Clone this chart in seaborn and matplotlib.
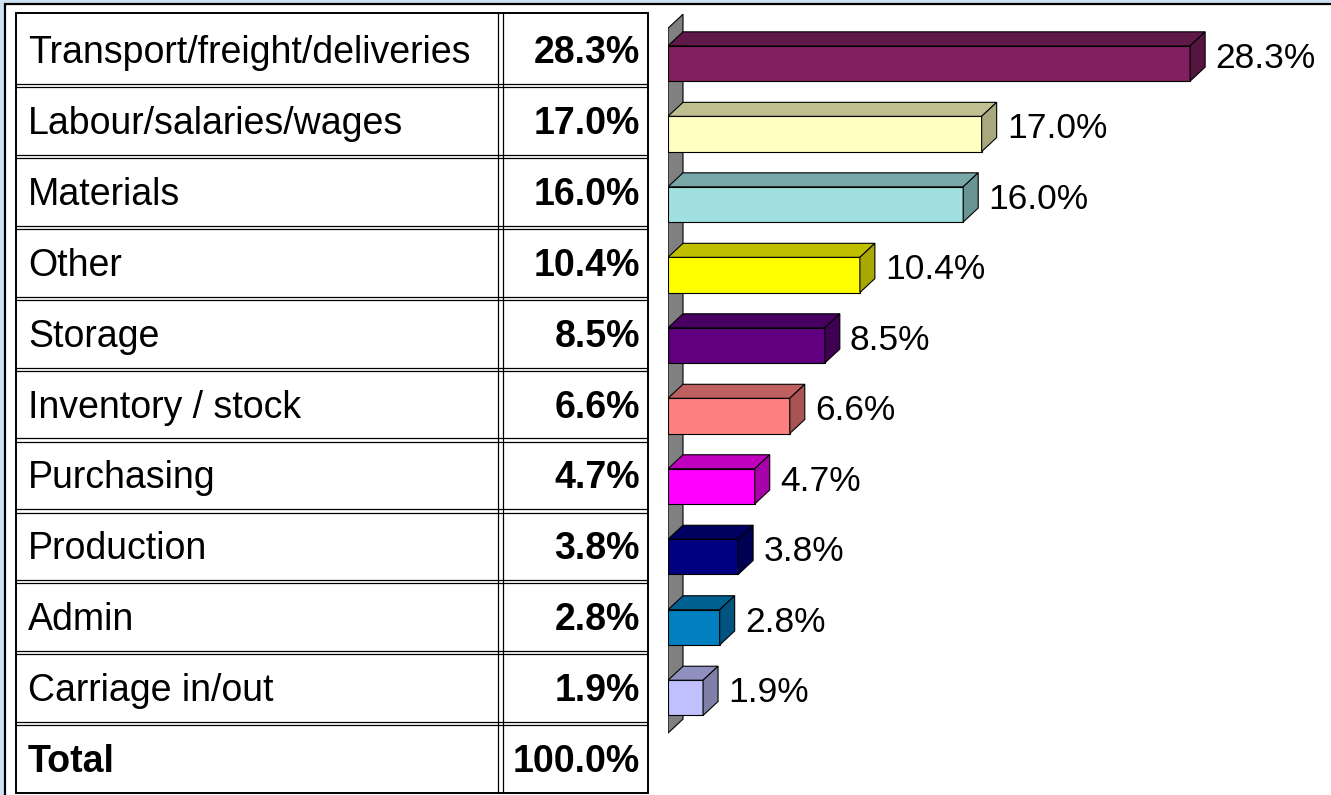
import matplotlib
matplotlib.use("Agg")
import matplotlib.pyplot as plt
from matplotlib.patches import Polygon, Rectangle
import seaborn as sns
import pandas as pd

# data
categories = ['Transport/freight/deliveries', 'Labour/salaries/wages', 'Materials', 'Other',
              'Storage', 'Inventory / stock', 'Purchasing', 'Production', 'Admin', 'Carriage in/out']
shares = [28.3, 17.0, 16.0, 10.4, 8.5, 6.6, 4.7, 3.8, 2.8, 1.9]
total_label = 'Total'
total_value = '100.0%'
front_colors = ['#802060', '#FFFFC0', '#A0E0E0', '#FFFF00', '#600080',
                '#FF8080', '#FF00FF', '#000080', '#0080C0', '#C0C0FF']

W, H = 1331, 795
sns.set_theme(style='white')
plt.rcParams['font.family'] = ['Liberation Sans', 'DejaVu Sans']
plt.rcParams['text.color'] = 'black'

fig = plt.figure(figsize=(W / 100, H / 100), dpi=100)
fig.patch.set_facecolor('#cfe2f3')
fig.add_artist(Rectangle((5 / W, -0.05), 1.1, 1.05 - 4 / H, transform=fig.transFigure,
                         facecolor='white', edgecolor='black', linewidth=1.6, zorder=-10))


def shade(c, f):
    r, g, b = matplotlib.colors.to_rgb(c)
    return (r * f, g * f, b * f)


# ---- table on the left ----
ax_t = fig.add_axes([16 / W, 1 - 793 / H, 632 / W, 780 / H])
ax_t.set_xlim(0, 632)
ax_t.set_ylim(11, 0)
ax_t.axis('off')
nrows = len(categories) + 1
ax_t.add_patch(Rectangle((0, 0), 632, nrows, fill=False, edgecolor='black', linewidth=1.4,
                         clip_on=False))
for r in range(1, nrows):
    for off in (0.0, 0.045):
        ax_t.plot([0, 632], [r + off, r + off], color='black', lw=0.9, clip_on=False)
for off in (482, 487):
    ax_t.plot([off, off], [0, nrows], color='black', lw=0.9, clip_on=False)

fs_t = 27
for r, (name, val) in enumerate(zip(categories, shares)):
    ax_t.text(12, r + 0.705, name, fontsize=fs_t, va='baseline', ha='left')
    ax_t.text(624, r + 0.705, f'{val:.1f}%', fontsize=fs_t, va='baseline', ha='right',
              fontweight='bold')
ax_t.text(12, nrows - 1 + 0.705, total_label, fontsize=fs_t, va='baseline', ha='left',
          fontweight='bold')
ax_t.text(624, nrows - 1 + 0.705, total_value, fontsize=fs_t, va='baseline', ha='right',
          fontweight='bold')

# ---- 3D-looking bar chart on the right ----
ax = fig.add_axes([668 / W, 1 - 793 / H, (W - 668) / W, 780 / H])
ax.patch.set_alpha(0)
df = pd.DataFrame({'category': categories, 'share': shares})
sns.barplot(data=df, x='share', y='category', hue='category', orient='h',
            palette=dict(zip(categories, front_colors)), legend=False,
            width=0.5, edgecolor='black', linewidth=0.8, saturation=1, ax=ax)
ax.set_xlim(0, (W - 668) / 18.45)
ax.set_ylim(10.35, -0.716)
ax.axis('off')

dx = 15 / 18.45   # depth in data units
dy = 14 / 70.5

n = len(categories)
wall = Polygon([(0, -0.5), (dx, -0.5 - dy), (dx, n - 0.5 - dy), (0, n - 0.5)],
               closed=True, facecolor='#808080', edgecolor='black', linewidth=0.8, zorder=0.5)
ax.add_patch(wall)

for p, c in zip(ax.patches[:n], front_colors):
    x0, y0 = p.get_x(), p.get_y()
    w, h = p.get_width(), p.get_height()
    top_y = min(y0, y0 + h)
    bot_y = max(y0, y0 + h)
    top = Polygon([(x0, top_y), (x0 + dx, top_y - dy), (x0 + w + dx, top_y - dy), (x0 + w, top_y)],
                  closed=True, facecolor=shade(c, 0.75), edgecolor='black', linewidth=0.8, zorder=3)
    side = Polygon([(x0 + w, top_y), (x0 + w + dx, top_y - dy), (x0 + w + dx, bot_y - dy),
                    (x0 + w, bot_y)],
                   closed=True, facecolor=shade(c, 0.66), edgecolor='black', linewidth=0.8, zorder=3)
    ax.add_patch(top)
    ax.add_patch(side)
    p.set_zorder(3)
    ax.text(x0 + w + dx + 0.55, (top_y + bot_y) / 2 + 0.06, f'{w:.1f}%',
            fontsize=25.5, va='baseline', ha='left')

fig.savefig('out.png', dpi=100, facecolor=fig.get_facecolor())
